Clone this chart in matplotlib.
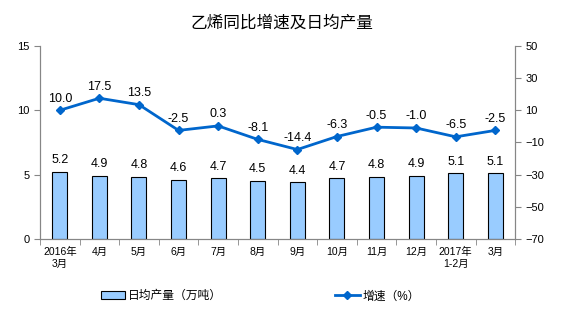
import matplotlib.pyplot as plt
import numpy as np

plt.rcParams['font.family'] = ['Liberation Sans', 'Noto Sans CJK SC']

months = ['2016年\n3月', '4月', '5月', '6月', '7月', '8月', '9月', '10月', '11月', '12月', '2017年\n1-2月', '3月']
daily_output = [5.2, 4.9, 4.8, 4.6, 4.7, 4.5, 4.4, 4.7, 4.8, 4.9, 5.1, 5.1]
growth = [10.0, 17.5, 13.5, -2.5, 0.3, -8.1, -14.4, -6.3, -0.5, -1.0, -6.5, -2.5]

bar_color = '#99CCFF'
line_color = '#0066CC'
axis_gray = '#868686'

fig = plt.figure(figsize=(5.63, 3.26), dpi=100)
ax = fig.add_axes([0.071, 0.267, 0.844, 0.592])
ax2 = ax.twinx()

x = np.arange(len(months))
bars = ax.bar(x, daily_output, width=0.38, color=bar_color, edgecolor='black', linewidth=0.8,
              zorder=2)
for xi, v in zip(x, daily_output):
    ax.text(xi, v + 0.45, f'{v:.1f}', ha='center', va='bottom', fontsize=9)

ln, = ax2.plot(x, growth, color=line_color, linewidth=2, marker='D', markersize=4.5, zorder=3)
for xi, v in zip(x, growth):
    ax2.text(xi, v + 3.5, f'{v:.1f}', ha='center', va='bottom', fontsize=9)

ax.set_xlim(-0.5, len(months) - 0.5)
ax.set_ylim(0, 15)
ax.set_yticks([0, 5, 10, 15])
ax2.set_ylim(-70, 50)
ax2.set_yticks(range(-70, 51, 20))

ax.set_xticks(x)
ax.set_xticklabels(months, fontsize=7.5)
ax.set_xticks(np.arange(-0.5, len(months), 1), minor=True)
ax.tick_params(axis='x', which='major', length=0, pad=6)
ax.tick_params(axis='x', which='minor', length=4, color=axis_gray, direction='out')
ax.tick_params(axis='y', labelsize=8, length=4, color=axis_gray)
ax2.tick_params(axis='y', labelsize=8, length=4, color=axis_gray)

for a in (ax, ax2):
    a.spines['top'].set_visible(False)
    for side in ('left', 'right', 'bottom'):
        a.spines[side].set_color(axis_gray)

fig.suptitle('乙烯同比增速及日均产量', y=0.955, fontsize=12, fontweight='medium')

fig.legend([bars, ln], ['日均产量（万吨）', '增速（%）'], loc='lower center', ncol=2,
           bbox_to_anchor=(0.462, 0.04), frameon=False, fontsize=8.5, columnspacing=9.6,
           handlelength=2.1, handletextpad=0.2)

fig.savefig('out.png', dpi=100)
